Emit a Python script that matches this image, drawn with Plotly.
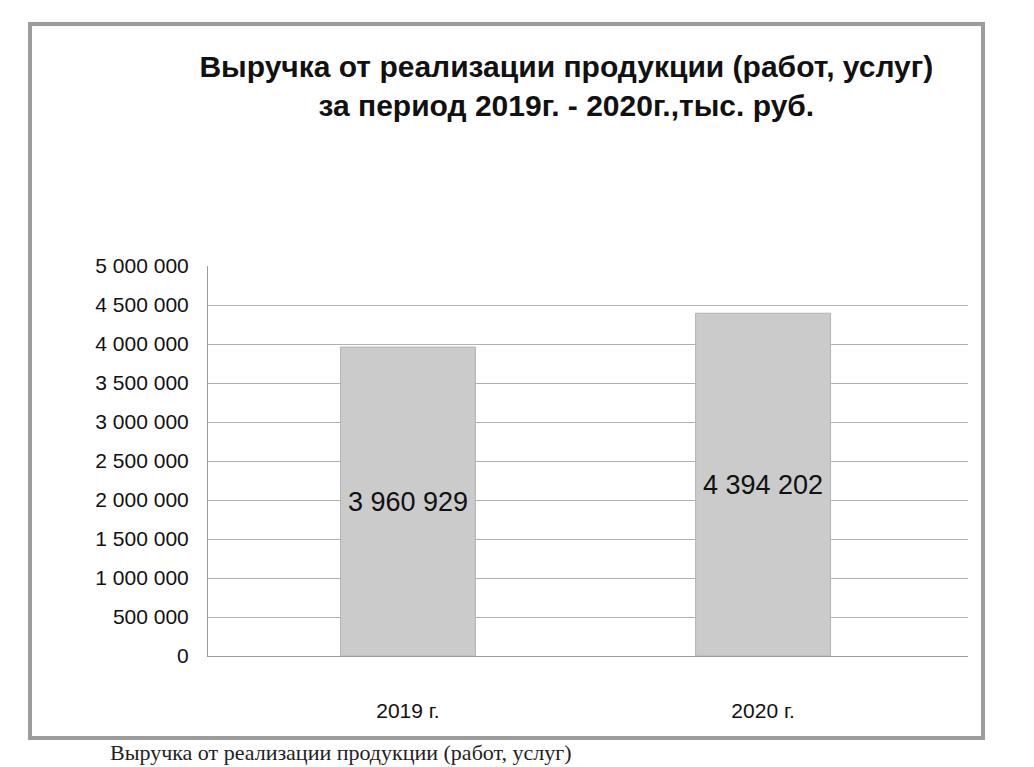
import plotly.graph_objects as go

categories = ["2019 г.", "2020 г."]
values = [3960929, 4394202]
value_labels = ["3 960 929", "4 394 202"]
tick_values = [0, 500000, 1000000, 1500000, 2000000, 2500000, 3000000,
               3500000, 4000000, 4500000, 5000000]
tick_labels = ["0", "500 000", "1 000 000", "1 500 000", "2 000 000", "2 500 000",
               "3 000 000", "3 500 000", "4 000 000", "4 500 000", "5 000 000"]

W, H = 1034, 767
L, R, T, B = 200, 74, 258, 119
pw, ph = W - L - R, H - T - B

def px(x):
    return (x - L) / pw

def py(y):
    return (H - B - y) / ph

fig = go.Figure()
fig.add_trace(go.Bar(
    x=categories, y=values,
    width=0.38,
    marker=dict(color="#cbcbcb", line=dict(color="#b3b3b3", width=1)),
    text=value_labels, textposition="inside", insidetextanchor="middle",
    textfont=dict(family="Liberation Sans, Arial", size=27, color="#111"),
    cliponaxis=False,
))

fig.update_layout(
    width=W, height=H,
    margin=dict(l=L, r=R, t=T, b=B),
    paper_bgcolor="white", plot_bgcolor="white",
    showlegend=False,
    title=dict(
        text="<b>Выручка от реализации продукции (работ, услуг)<br>за период 2019г. - 2020г.,тыс. руб.</b>",
        x=0.54, xanchor="center", y=0.91, yanchor="top",
        font=dict(family="Liberation Sans, Arial", size=30, color="#111"),
    ),
    xaxis=dict(
        range=[-0.563, 1.577],
        showgrid=False, showline=True, linecolor="#9a9a9a", linewidth=1,
        tickfont=dict(family="Liberation Sans, Arial", size=21, color="#111"),
        ticks="", ticklabelstandoff=36,
    ),
    yaxis=dict(
        range=[0, 5000000], tickvals=tick_values, ticktext=tick_labels,
        showgrid=True, gridcolor="#b0b0b0", gridwidth=1,
        showline=True, linecolor="#9a9a9a", linewidth=1,
        zeroline=False, ticks="", ticklabelstandoff=14,
        tickfont=dict(family="Liberation Sans, Arial", size=21, color="#111"),
    ),
    shapes=[dict(
        type="rect", xref="paper", yref="paper",
        x0=px(22), x1=px(975), y0=py(730), y1=py(16),
        line=dict(color="#9c9c9c", width=4), fillcolor="rgba(0,0,0,0)",
        layer="below",
    )],
    annotations=[dict(
        text="Выручка от реализации продукции (работ, услуг)",
        xref="paper", yref="paper", x=px(100), y=py(759),
        xanchor="left", yanchor="bottom", showarrow=False,
        font=dict(family="Liberation Serif, Times New Roman", size=22, color="#222"),
    )],
)

fig.write_html("out.html")
